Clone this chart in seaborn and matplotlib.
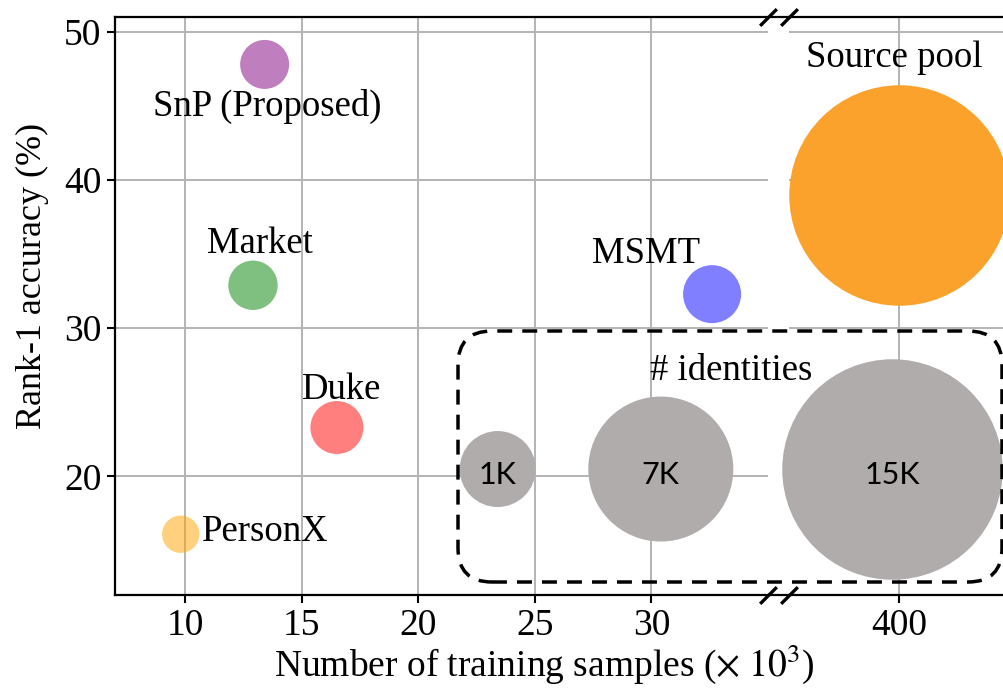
import numpy as np
import pandas as pd
import seaborn as sns
import matplotlib.pyplot as plt
from matplotlib.patches import FancyBboxPatch
from matplotlib.lines import Line2D

# Benchmark datasets: training-set size (thousands), rank-1 accuracy, bubble area
datasets = ["PersonX", "Market", "SnP (Proposed)", "Duke", "MSMT"]
train_samples_k = [9.8, 12.9, 13.4, 16.5, 32.6]
rank1_acc = [16.1, 32.9, 47.8, 23.3, 32.3]
bubble_area = [725, 1265, 1245, 1456, 1744]
bubble_colors = ["orange", "green", "purple", "red", "blue"]

# Large source pool on the far side of the broken axis
pool_name = "Source pool"
pool_samples_k = [400.0]
pool_rank1 = [39.0]
pool_area = [25200]

# Reference bubbles for the number of identities
id_labels = ["1K", "7K", "15K"]
id_samples_k = [23.4, 30.4, 399.7]
id_rank1 = [20.5, 20.5, 20.5]
id_area = [2990, 10900, 25200]

x_ticks_left = [10, 15, 20, 25, 30]
x_ticks_right = [400]
y_ticks = [20, 30, 40, 50]

sns.set_theme(style="whitegrid", rc={"grid.color": "#b3b3b3", "grid.linewidth": 1.4,
                                     "axes.edgecolor": "black", "axes.linewidth": 1.6,
                                     "text.color": "black", "axes.labelcolor": "black",
                                     "xtick.color": "black", "ytick.color": "black"})
plt.rcParams["font.family"] = ["Liberation Serif", "DejaVu Serif"]
plt.rcParams["mathtext.fontset"] = "stix"

W, H = 1004, 692
fig = plt.figure(figsize=(W / 100, H / 100), dpi=100)


def px_rect(l, t, r, b):
    return [l / W, 1 - b / H, (r - l) / W, (b - t) / H]


ax = fig.add_axes(px_rect(115.5, 17, 768, 595))
axr = fig.add_axes(px_rect(789, 17, 1013.4, 595))
axr.patch.set_visible(False)

# --- left panel: datasets ---
df = pd.DataFrame({"dataset": datasets, "samples": train_samples_k,
                   "rank1": rank1_acc, "area": bubble_area})
amin, amax = min(bubble_area), max(bubble_area)
sns.scatterplot(data=df, x="samples", y="rank1", hue="dataset",
                palette=dict(zip(datasets, bubble_colors)),
                size="area", sizes=(amin, amax), size_norm=(amin, amax),
                alpha=0.5, linewidth=0, legend=False, ax=ax, zorder=3)

# identity reference bubbles (split across both panels)
ids = pd.DataFrame({"label": id_labels, "samples": id_samples_k,
                    "rank1": id_rank1, "area": id_area})
gray = "#afacab"
for axis, part in ((ax, ids[ids.samples < 100]), (axr, ids[ids.samples >= 100])):
    sns.scatterplot(data=part, x="samples", y="rank1", s=part["area"].to_numpy(),
                    color=gray, linewidth=0, legend=False, ax=axis, zorder=3)

# --- right panel: source pool ---
pool = pd.DataFrame({"samples": pool_samples_k, "rank1": pool_rank1, "area": pool_area})
sns.scatterplot(data=pool, x="samples", y="rank1", s=pool["area"].to_numpy(),
                color="#fba22c", linewidth=0, legend=False, ax=axr, zorder=3)

for a in (ax, axr):
    for c in a.collections:
        c.set_clip_on(False)
    a.set_axisbelow(True)
    a.set_ylim(12, 51)
    a.set_yticks(y_ticks)
    a.set_xlabel("")
    a.set_ylabel("")
    a.tick_params(axis="both", direction="out", length=6, width=1.5,
                  labelsize=27, pad=4, colors="black")

ax.set_xlim(7, 35)
ax.set_xticks(x_ticks_left)
ax.tick_params(bottom=True, left=True)
ax.spines["right"].set_visible(False)

axr.set_xlim(395, 405.2)
axr.set_xticks(x_ticks_right)
axr.tick_params(bottom=True, left=False, labelleft=False)
axr.spines["left"].set_visible(False)

# join the spines across the gap and draw the break marks
for yy in (17, 595):
    fig.add_artist(Line2D([768 / W, 789 / W], [1 - yy / H] * 2,
                          transform=fig.transFigure, color="black", lw=1.6))
mk = dict(marker=[(-1, -1), (1, 1)], markersize=12, linestyle="none",
          color="black", mec="black", mew=2.4, clip_on=False, zorder=5)
ax.plot([1, 1], [0, 1], transform=ax.transAxes, **mk)
axr.plot([0, 0], [0, 1], transform=axr.transAxes, **mk)

# dataset labels
label_style = {
    "PersonX": ((15.4, -5.0), "left"),
    "Market": ((5.2, 23.5), "center"),
    "SnP (Proposed)": ((1.8, -37.0), "center"),
    "Duke": ((3.4, 20.9), "center"),
    "MSMT": ((-47.5, 22.1), "center"),
}
for name, xv, yv in zip(datasets, train_samples_k, rank1_acc):
    off, ha = label_style[name]
    ax.annotate(name, xy=(xv, yv), xytext=off, textcoords="offset points",
                ha=ha, va="baseline", fontsize=26.5, zorder=6)
axr.annotate(pool_name, xy=(pool_samples_k[0], pool_rank1[0]), xytext=(-3.2, 92.3),
             textcoords="offset points", ha="center", va="baseline", fontsize=26.5, zorder=6)

for lab, xv, yv in zip(id_labels, id_samples_k, id_rank1):
    target = ax if xv < 100 else axr
    target.annotate(lab, xy=(xv, yv), xytext=(0, -4), textcoords="offset points",
                    ha="center", va="center", fontsize=22, family=["Lato", "DejaVu Sans"],
                    zorder=6, annotation_clip=False)

ax.text(33.4, 26.5, "# identities", ha="center", va="baseline", fontsize=26.5, zorder=6)

# dashed frame around the identity legend
frame = FancyBboxPatch((4.58, 1.10), 5.44, 2.51,
                       boxstyle="round,pad=0,rounding_size=0.34",
                       transform=fig.dpi_scale_trans, fill=False, ec="black",
                       lw=2.5, ls=(0, (4.3, 2.9)), zorder=7)
fig.add_artist(frame)

fig.text(544 / W, 16 / H, r"Number of training samples ($\times\ 10^3$)",
         ha="center", va="baseline", fontsize=27)
fig.text(32 / W, 1 - 276 / H, "Rank-1 accuracy (%)", rotation=90,
         ha="center", va="center", fontsize=26)

fig.savefig("out.png", dpi=100)
